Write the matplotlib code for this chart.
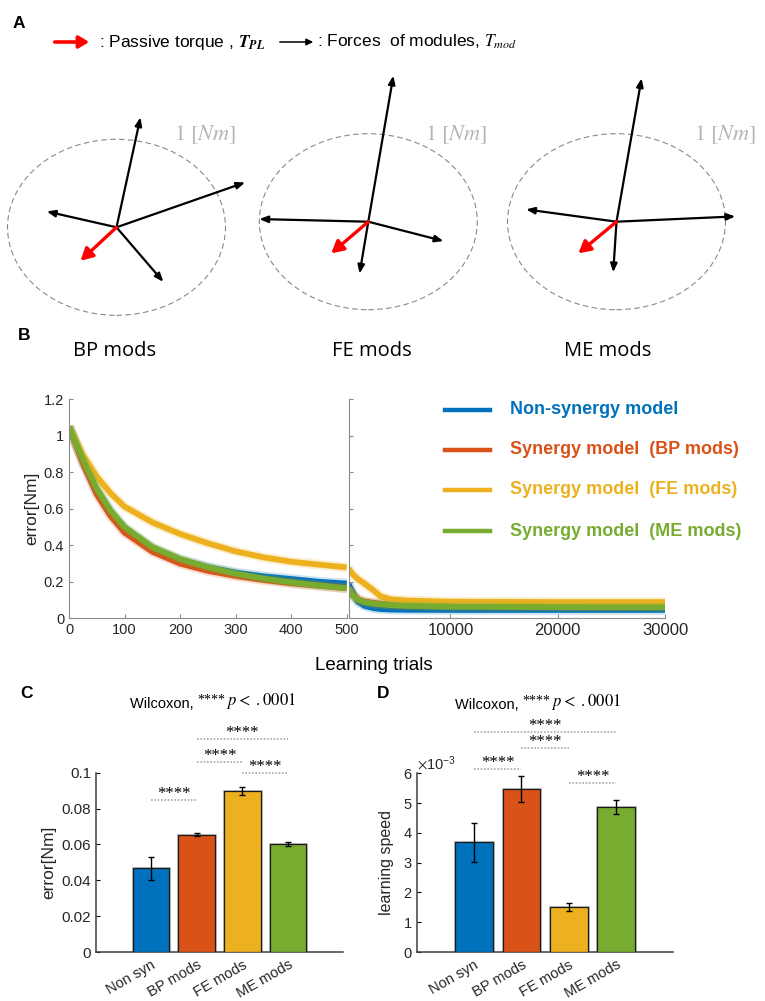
import numpy as np
import matplotlib
matplotlib.use('Agg')
import matplotlib.pyplot as plt
from matplotlib.patches import Ellipse, FancyArrowPatch
from matplotlib.lines import Line2D
from matplotlib.text import Annotation
from matplotlib.transforms import ScaledTranslation

plt.rcParams['font.family'] = ['Liberation Sans', 'DejaVu Sans']
plt.rcParams['mathtext.fontset'] = 'stix'

W, H = 765, 1001

# ---- panel A: module force vectors [Nm] ----
mod_sets = ['BP mods', 'FE mods', 'ME mods']
bp_mods_x = [0.22, -0.64, 1.18, 0.43]
bp_mods_y = [1.25, 0.18, 0.51, -0.62]
fe_mods_x = [0.23, -1.00, 0.69, -0.08]
fe_mods_y = [1.66, 0.03, -0.22, -0.59]
me_mods_x = [0.23, -0.83, 1.09, -0.03]
me_mods_y = [1.63, 0.14, 0.06, -0.575]
passive_x = [-0.33, -0.34, -0.35]
passive_y = [-0.38, -0.36, -0.36]

# ---- panel B: learning curves ----
series_names = ['Non-synergy model', 'Synergy model  (BP mods)',
                'Synergy model  (FE mods)', 'Synergy model  (ME mods)']
trials_early = [0, 25, 50, 75, 100, 150, 200, 250, 300, 350, 400, 450, 500]
err_early_non = [1.05, 0.86, 0.70, 0.58, 0.49, 0.385, 0.32, 0.28, 0.25, 0.23, 0.215, 0.20, 0.19]
err_early_bp = [1.05, 0.85, 0.68, 0.56, 0.47, 0.365, 0.30, 0.26, 0.232, 0.21, 0.192, 0.178, 0.165]
err_early_fe = [1.05, 0.895, 0.776, 0.685, 0.612, 0.526, 0.462, 0.411, 0.367, 0.334, 0.31, 0.294, 0.279]
err_early_me = [1.05, 0.87, 0.71, 0.59, 0.50, 0.39, 0.325, 0.28, 0.245, 0.218, 0.197, 0.18, 0.165]

trials_late = [500, 920, 1380, 2000, 2900, 3500, 4460, 6000, 10000, 20000, 30000]
err_late_non = [0.188, 0.137, 0.091, 0.068, 0.055, 0.051, 0.048, 0.047, 0.046, 0.046, 0.046]
err_late_bp = [0.165, 0.128, 0.104, 0.092, 0.084, 0.080, 0.076, 0.072, 0.068, 0.066, 0.065]
err_late_fe = [0.274, 0.240, 0.215, 0.190, 0.150, 0.120, 0.104, 0.097, 0.091, 0.089, 0.089]
err_late_me = [0.165, 0.125, 0.100, 0.088, 0.080, 0.077, 0.072, 0.068, 0.064, 0.061, 0.060]

colors = ['#0072BD', '#D95319', '#EDB120', '#77AC30']

# ---- panels C, D: bars ----
bar_labels = ['Non syn', 'BP mods', 'FE mods', 'ME mods']
final_error = [0.0467, 0.0655, 0.0897, 0.0603]
final_error_sd = [0.0063, 0.0010, 0.0022, 0.0010]
speed = [3.68e-3, 5.46e-3, 1.52e-3, 4.87e-3]
speed_sd = [0.65e-3, 0.44e-3, 0.14e-3, 0.23e-3]
# significance pairs (bar i, bar j, height)
sig_error = [(0, 1, 0.0849), (1, 2, 0.106), (2, 3, 0.0998), (1, 3, 0.119)]
sig_speed = [(0, 3, 7.39e-3), (1, 2, 6.85e-3), (0, 1, 6.13e-3), (2, 3, 5.68e-3)]


def px_axes(fig, x0, y0, x1, y1):
    return fig.add_axes([x0 / W, 1 - y1 / H, (x1 - x0) / W, (y1 - y0) / H])


def fig_text(fig, x, y, s, **kw):
    return fig.text(x / W, 1 - y / H, s, **kw)


fig = plt.figure(figsize=(W / 100, H / 100), dpi=100)

# ---------------- A ----------------
fig_text(fig, 13, 24, 'A', fontsize=12.5, weight='bold', va='center')
fig.add_artist(FancyArrowPatch((52 / W, 1 - 42 / H), (92 / W, 1 - 42 / H),
                               transform=fig.transFigure, color='red', lw=2.6,
                               arrowstyle='-|>,head_length=0.5,head_width=0.3',
                               mutation_scale=12))
fig_text(fig, 99, 42, r': Passive torque , $\mathbfit{T}_{\mathbfit{PL}}$',
         fontsize=12.5, va='center')
fig.add_artist(FancyArrowPatch((277 / W, 1 - 42 / H), (316 / W, 1 - 42 / H),
                               transform=fig.transFigure, color='black', lw=1.1,
                               arrowstyle='-|>,head_length=0.4,head_width=0.2',
                               mutation_scale=10))
fig_text(fig, 317, 42, r': Forces  of modules, $T_{mod}$', fontsize=12.5, va='center')

centers = [(116.5, 227.3), (368.3, 221.7), (616.5, 221.7)]
rx, ry = 109, 88
mods_x = [bp_mods_x, fe_mods_x, me_mods_x]
mods_y = [bp_mods_y, fe_mods_y, me_mods_y]
for k, (cx, cy) in enumerate(centers):
    ax = px_axes(fig, cx - 1.3 * rx, cy - 1.8 * ry, cx + 1.3 * rx, cy + 1.1 * ry)
    ax.set_xlim(-1.3, 1.3)
    ax.set_ylim(-1.1, 1.8)
    ax.axis('off')
    ax.patch.set_alpha(0)
    ax.add_patch(Ellipse((0, 0), 2, 2, fill=False, ec='#8a8a8a', lw=0.8,
                         ls=(0, (5, 3))))
    for x, y in zip(mods_x[k], mods_y[k]):
        ax.annotate('', xy=(x, y), xytext=(0, 0),
                    arrowprops=dict(arrowstyle='-|>,head_length=0.45,head_width=0.18',
                                    color='black', lw=1.6, mutation_scale=11,
                                    shrinkA=0, shrinkB=0))
    ax.annotate('', xy=(passive_x[k], passive_y[k]), xytext=(0, 0),
                arrowprops=dict(arrowstyle='-|>,head_length=0.55,head_width=0.3',
                                color='red', lw=2.4, mutation_scale=13,
                                shrinkA=0, shrinkB=0))
    fig_text(fig, cx + (0.81 if k < 2 else 1.0) * rx, 135, r'$1\ [Nm]$',
             fontsize=16, color='#b4b4b4', ha='center', va='center')
    fig_text(fig, [115, 372, 608][k], 351, mod_sets[k], fontsize=14.5,
             family=['Open Sans', 'DejaVu Sans'], ha='center', va='center')

# ---------------- B ----------------
fig_text(fig, 18, 336, 'B', fontsize=12.5, weight='bold', va='center')
ax_l = px_axes(fig, 69, 399.3, 346.7, 618.3)
ax_r = px_axes(fig, 348.5, 399.3, 665, 618.3)
early = [err_early_non, err_early_bp, err_early_fe, err_early_me]
late = [err_late_non, err_late_bp, err_late_fe, err_late_me]
for c, ye, yl in zip(colors, early, late):
    ax_l.plot(trials_early, ye, color=c, lw=7, alpha=0.2, solid_capstyle='butt')
    ax_l.plot(trials_early, ye, color=c, lw=4.2, solid_capstyle='butt')
    ax_r.plot(trials_late, yl, color=c, lw=7, alpha=0.2, solid_capstyle='butt')
    ax_r.plot(trials_late, yl, color=c, lw=4.2, solid_capstyle='butt')

for ax in (ax_l, ax_r):
    ax.set_ylim(0, 1.2)
    ax.set_yticks(np.arange(0, 1.21, 0.2))
    for s in ('top', 'right'):
        ax.spines[s].set_visible(False)
    for s in ('left', 'bottom'):
        ax.spines[s].set_color('#8c8c8c')
        ax.spines[s].set_linewidth(0.8)
    ax.tick_params(direction='in', length=3, color='#8c8c8c', labelcolor='#262626')
ax_l.set_xlim(0, 500)
ax_l.set_xticks([0, 100, 200, 300, 400, 500])
ax_l.set_yticklabels(['0', '0.2', '0.4', '0.6', '0.8', '1', '1.2'])
ax_l.tick_params(labelsize=10.5)
ax_l.set_ylabel('error[Nm]', fontsize=12.5, labelpad=3, color='#262626')
ax_r.set_xlim(500, 30000)
ax_r.set_xticks([10000, 20000, 30000])
ax_r.tick_params(axis='y', labelleft=False)
ax_r.tick_params(axis='x', labelsize=12)

for i, (name, c) in enumerate(zip(series_names, colors)):
    yy = [410, 449.5, 489.5, 531][i]
    fig.add_artist(Line2D([445 / W, 490 / W], [1 - yy / H, 1 - yy / H], color=c, lw=3.2,
                          transform=fig.transFigure))
    fig_text(fig, 510, yy, name, color=c, fontsize=13, weight='bold', va='center')

fig_text(fig, 374, 665, 'Learning trials', fontsize=13.5, ha='center', va='center')


# ---------------- C, D ----------------
def draw_bars(ax, values, errs, sigs, ytick_size, xtick_size, shift):
    pos = np.arange(1, len(values) + 1)
    ax.bar(pos, values, width=0.8, color=colors, edgecolor='#c4c4c4', lw=2.2, zorder=2)
    ax.bar(pos, values, width=0.8, color=colors, edgecolor='#1a1a1a', lw=0.9, zorder=3)
    ax.errorbar(pos, values, yerr=errs, fmt='none', ecolor='black', elinewidth=1,
                capsize=2.5, capthick=1, zorder=4)
    ax.set_xlim(-0.2, 5.2)
    ax.set_xticks(pos)
    ax.set_xticklabels(bar_labels, rotation=30, ha='right', va='top',
                       rotation_mode='anchor', fontsize=xtick_size, color='#262626')
    off = ScaledTranslation(shift / 72, 0, fig.dpi_scale_trans)
    for lab in ax.get_xticklabels():
        lab.set_transform(lab.get_transform() + off)
    for s in ('top', 'right'):
        ax.spines[s].set_visible(False)
    for s in ('left', 'bottom'):
        ax.spines[s].set_color('#404040')
        ax.spines[s].set_linewidth(1.1)
    ax.tick_params(axis='x', length=0, pad=4)
    ax.tick_params(axis='y', direction='in', length=3, labelsize=ytick_size,
                   labelcolor='#262626')
    for i, j, h in sigs:
        ax.plot([pos[i], pos[j]], [h, h], color='#a8a8a8', lw=1.2, ls=(0, (1, 1)),
                clip_on=False)
        ax.annotate('****', xy=((pos[i] + pos[j]) / 2, h), xytext=(0, 1.5),
                    textcoords='offset points', ha='center', va='baseline',
                    fontsize=12, family='Liberation Serif', annotation_clip=False)


def wilcoxon_title(x, y):
    t1 = fig_text(fig, x, y, 'Wilcoxon, ', fontsize=10.5, ha='left', va='baseline')
    t2 = Annotation('****', xy=(1, 0.55), xycoords=t1, ha='left', va='baseline',
                    fontsize=10, family='Liberation Serif')
    fig.add_artist(t2)
    t3 = Annotation(r'$p <\ .0001$', xy=(1, 0), xycoords=(t2, t1), ha='left',
                    va='bottom', fontsize=12)
    fig.add_artist(t3)


fig_text(fig, 20, 693, 'C', fontsize=12.5, weight='bold', va='center')
ax_c = px_axes(fig, 96, 772.7, 343, 952)
draw_bars(ax_c, final_error, final_error_sd, sig_error, 11, 10.5, 7)
ax_c.set_ylim(0, 0.1)
ax_c.set_yticks([0, 0.02, 0.04, 0.06, 0.08, 0.1])
ax_c.set_yticklabels(['0', '0.02', '0.04', '0.06', '0.08', '0.1'])
ax_c.set_ylabel('error[Nm]', fontsize=12.5, labelpad=4, color='#262626')
wilcoxon_title(130, 708)

fig_text(fig, 377, 693, 'D', fontsize=12.5, weight='bold', va='center')
ax_d = px_axes(fig, 417.3, 773.3, 673, 952)
draw_bars(ax_d, speed, speed_sd, sig_speed, 10.5, 10.5, 5)
ax_d.set_ylim(0, 6e-3)
ax_d.set_yticks(np.arange(0, 7) * 1e-3)
ax_d.ticklabel_format(axis='y', style='sci', scilimits=(0, 0), useMathText=True)
ax_d.yaxis.get_offset_text().set_fontsize(10.5)
ax_d.yaxis.get_offset_text().set_color('#262626')
ax_d.set_ylabel('learning speed', fontsize=11.5, labelpad=6, color='#262626')
wilcoxon_title(455, 709)

fig.savefig('out.png', dpi=100)
